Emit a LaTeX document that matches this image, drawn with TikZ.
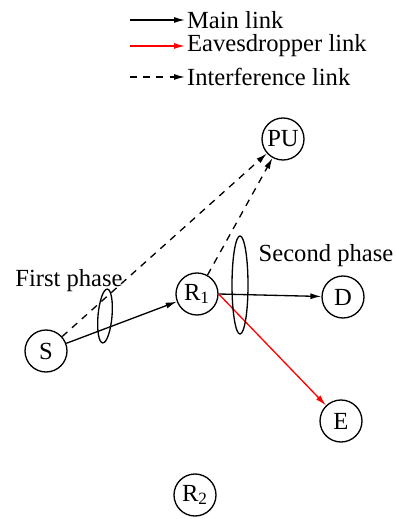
\documentclass[tikz,border=0pt]{standalone}
\usepackage{fontspec}
\setmainfont{Liberation Serif}
\usetikzlibrary{arrows.meta}

\begin{document}
\begin{tikzpicture}[x=0.02cm,y=-0.02cm,
  every node/.style={font=\fontsize{14}{16}\selectfont},
  term/.style={draw,circle,line width=0.75pt,minimum size=0.84cm,inner sep=0pt},
  link/.style={line width=0.75pt,-{Latex[length=0.22cm,width=0.12cm]}},
  intf/.style={link,dash pattern=on 4pt off 3.5pt},
  leg/.style={anchor=west,inner sep=1pt}]
\useasboundingbox (0,0) rectangle (395,519);
% legend
\node[leg] (mainlbl) at (185,20) {Main link};
\node[leg] (eavelbl) at (185,46) {Eavesdropper link};
\node[leg] (intflbl) at (185,77) {Interference link};
\coordinate (mainstart) at (130,20);
\coordinate (eavestart) at (130,46);
\coordinate (intfstart) at (130,77);
\draw[link] (mainstart) -- (mainlbl.west);
\draw[link,red] (eavestart) -- (eavelbl.west);
\draw[intf] (intfstart) -- (intflbl.west);
% terminals
\node[term] (PU) at (283,139) {PU};
\node[term] (S) at (46,351) {S};
\node[term] (R1) at (197,294) {R\textsubscript{1}};
\node[term] (D) at (343,297) {D};
\node[term] (E) at (341,421) {E};
\node[term] (R2) at (195,495) {R\textsubscript{2}};
% first phase
\draw[intf] (S) -- (PU);
\draw[link] (S) -- (R1);
\draw[line width=0.75pt,rotate around={-5:(105,316)}] (105,316) ellipse (7 and 27);
\node (firstlbl) at (69,281) {First phase};
% second phase
\draw[intf] (R1) -- (PU);
\draw[link] (R1.east) -- (D);
\draw[link,red] (R1.east) -- (E);
\draw[line width=0.75pt] (240,285) ellipse (8 and 49);
\node (secondlbl) at (326,256) {Second phase};
\end{tikzpicture}
\end{document}
